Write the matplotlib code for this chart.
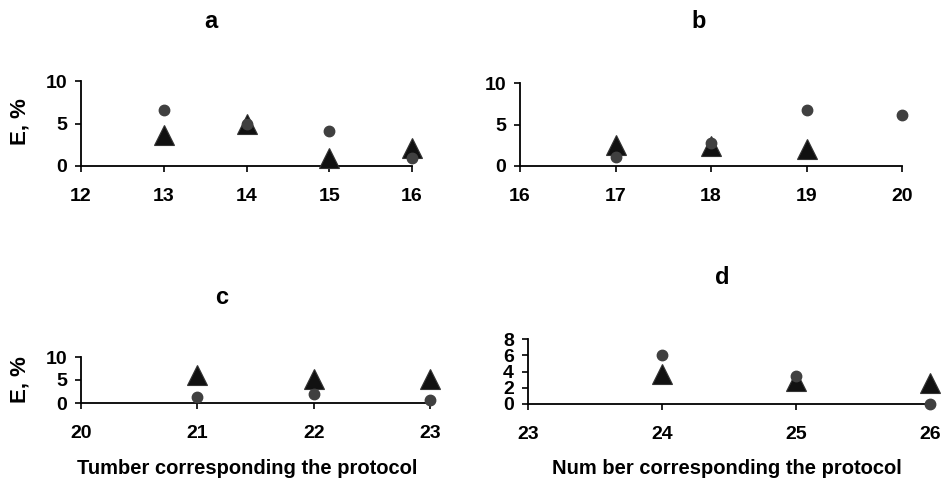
import matplotlib
matplotlib.use('Agg')
import matplotlib.pyplot as plt

plt.rcParams['font.family'] = ['Liberation Sans', 'DejaVu Sans']
plt.rcParams['font.weight'] = 'bold'

# panel data: protocol numbers, circle series, triangle series
a_x = [13, 14, 15, 16]
a_circ = [6.6, 4.9, 4.1, 0.9]
a_tri = [3.6, 4.9, 1.0, 2.1]

b_x_circ = [17, 18, 19, 20]
b_circ = [1.1, 2.8, 6.7, 6.1]
b_x_tri = [17, 18, 19]
b_tri = [2.5, 2.4, 2.1]

c_x = [21, 22, 23]
c_circ = [1.4, 1.9, 0.7]
c_tri = [6.0, 5.2, 5.2]

d_x = [24, 25, 26]
d_circ = [6.0, 3.4, 0.0]
d_tri = [3.7, 2.8, 2.6]

W, H = 942, 480
fig = plt.figure(figsize=(W / 100, H / 100), dpi=100)


def make_ax(left, right, top, bottom):
    return fig.add_axes([left / W, 1 - bottom / H, (right - left) / W, (bottom - top) / H])


def style(ax, xlim, ylim, yticks):
    ax.set_xlim(*xlim)
    ax.set_ylim(*ylim)
    ax.set_xticks(range(xlim[0], xlim[1] + 1))
    ax.set_yticks(yticks)
    for s in ['top', 'right']:
        ax.spines[s].set_visible(False)
    for s in ['left', 'bottom']:
        ax.spines[s].set_linewidth(1.3)
    ax.tick_params(axis='both', direction='out', length=4, width=1.2, labelsize=14)
    ax.tick_params(axis='x', pad=12)
    ax.tick_params(axis='y', pad=6)
    for lab in ax.get_xticklabels() + ax.get_yticklabels():
        lab.set_fontweight('bold')


def draw(ax, xt, yt, xc, yc):
    ax.plot(xt, yt, linestyle='none', marker='^', markersize=14, color='#111111',
            markeredgecolor='#333333', markeredgewidth=0.8, clip_on=False, zorder=3)
    ax.plot(xc, yc, linestyle='none', marker='o', markersize=7.5, color='#404040',
            markeredgecolor='#404040', clip_on=False, zorder=4)


ax_a = make_ax(81, 412, 81, 166)
style(ax_a, (12, 16), (0, 10), [0, 5, 10])
draw(ax_a, a_x, a_tri, a_x, a_circ)

ax_b = make_ax(520, 902, 83, 166)
style(ax_b, (16, 20), (0, 10), [0, 5, 10])
draw(ax_b, b_x_tri, b_tri, b_x_circ, b_circ)

ax_c = make_ax(81, 430, 357, 403)
style(ax_c, (20, 23), (0, 10), [0, 5, 10])
draw(ax_c, c_x, c_tri, c_x, c_circ)

ax_d = make_ax(528, 930, 339, 404)
style(ax_d, (23, 26), (0, 8), [0, 2, 4, 6, 8])
draw(ax_d, d_x, d_tri, d_x, d_circ)

# panel letters
fig.text(211 / W, 1 - 22 / H, 'a', fontsize=17, fontweight='bold', ha='center', va='center')
fig.text(699 / W, 1 - 22 / H, 'b', fontsize=17, fontweight='bold', ha='center', va='center')
fig.text(222 / W, 1 - 297 / H, 'c', fontsize=17, fontweight='bold', ha='center', va='center')
fig.text(722 / W, 1 - 277 / H, 'd', fontsize=17, fontweight='bold', ha='center', va='center')

# y labels
fig.text(20 / W, 1 - 122 / H, 'E, %', fontsize=16, fontweight='bold', rotation=90,
         ha='center', va='center')
fig.text(20 / W, 1 - 380 / H, 'E, %', fontsize=16, fontweight='bold', rotation=90,
         ha='center', va='center')

# x labels
fig.text(247 / W, 1 - 468 / H, 'Tumber corresponding the protocol', fontsize=14.5,
         fontweight='bold', ha='center', va='center')
fig.text(727 / W, 1 - 468 / H, 'Num ber corresponding the protocol', fontsize=14.5,
         fontweight='bold', ha='center', va='center')

fig.savefig('out.png', dpi=100)
